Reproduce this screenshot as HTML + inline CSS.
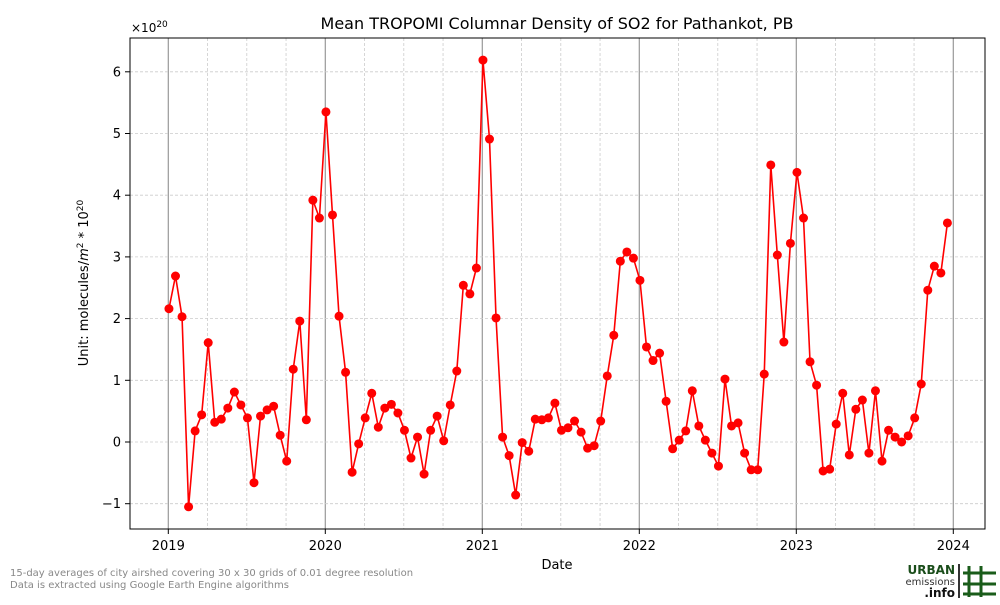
<!DOCTYPE html>
<html><head><meta charset="utf-8"><style>
body{margin:0;background:#fff;font-family:"Liberation Sans","DejaVu Sans",sans-serif}
</style></head><body>
<svg id="chart" width="1000" height="600" xmlns="http://www.w3.org/2000/svg" font-family="DejaVu Sans, Liberation Sans, sans-serif">
<rect width="1000" height="600" fill="#fff"/>
<text x="557" y="29" text-anchor="middle" font-size="16">Mean TROPOMI Columnar Density of SO2 for Pathankot, PB</text>
<text x="131" y="32" font-size="12">×10<tspan dy="-5" font-size="9">20</tspan></text>
<g id="grid"></g>
<g id="series"></g>
<rect x="130" y="38" width="855" height="491" fill="none" stroke="#000" stroke-width="1"/>
<g id="axes"></g>
<text x="557" y="569" text-anchor="middle" font-size="13">Date</text>
<text transform="translate(88,283) rotate(-90)" text-anchor="middle" font-size="13">Unit: molecules/<tspan font-style="italic">m</tspan><tspan dy="-5" font-size="9">2</tspan><tspan dy="5"> * 10</tspan><tspan dy="-5" font-size="9">20</tspan></text>
<text x="10" y="576" font-size="10" fill="#888">15-day averages of city airshed covering 30 x 30 grids of 0.01 degree resolution</text>
<text x="10" y="588" font-size="10" fill="#888">Data is extracted using Google Earth Engine algorithms</text>
<g>
<text x="955" y="574" text-anchor="end" font-size="12" font-weight="bold" fill="#1a4d1a">URBAN</text>
<text x="955" y="585" text-anchor="end" font-size="10" fill="#333">emissions</text>
<text x="955" y="597" text-anchor="end" font-size="12" font-weight="bold" fill="#111">.info</text>
<rect x="958" y="564" width="2" height="34" fill="#333"/>
<g stroke="#1a5c1a" stroke-width="3"><line x1="969" y1="566" x2="969" y2="597"/><line x1="981" y1="566" x2="981" y2="597"/><line x1="963" y1="573" x2="996" y2="573"/><line x1="963" y1="584" x2="996" y2="584"/><line x1="963" y1="594" x2="996" y2="594"/></g>
</g>
</svg>
<script>
const values = [2.16,2.69,2.03,-1.05,0.18,0.44,1.61,0.32,0.37,0.55,0.81,0.60,0.39,-0.66,0.42,0.52,0.58,0.11,-0.31,1.18,1.96,0.36,3.92,3.63,
5.35,3.68,2.04,1.13,-0.49,-0.03,0.39,0.79,0.24,0.55,0.61,0.47,0.19,-0.26,0.08,-0.52,0.19,0.42,0.02,0.60,1.15,2.54,2.40,2.82,
6.19,4.91,2.01,0.08,-0.22,-0.86,-0.01,-0.15,0.37,0.36,0.39,0.63,0.19,0.23,0.34,0.16,-0.10,-0.06,0.34,1.07,1.73,2.93,3.08,2.98,
2.62,1.54,1.32,1.44,0.66,-0.11,0.03,0.18,0.83,0.26,0.03,-0.18,-0.39,1.02,0.26,0.31,-0.18,-0.45,-0.45,1.10,4.49,3.03,1.62,3.22,
4.37,3.63,1.30,0.92,-0.47,-0.44,0.29,0.79,-0.21,0.53,0.68,-0.18,0.83,-0.31,0.19,0.08,0.00,0.10,0.39,0.94,2.46,2.85,2.74,3.55];
const startYear = 2019;
const periodsPerYear = 24;
const yTicks = [-1,0,1,2,3,4,5,6];
const xTicks = [2019,2020,2021,2022,2023,2024];
const NS='http://www.w3.org/2000/svg';
const xs = t => 168.3 + (t-2019)*157;
const ys = v => 442 - v*61.7;
function mk(tag, attrs, parent){const e=document.createElementNS(NS,tag);for(const k in attrs)e.setAttribute(k,attrs[k]);parent.appendChild(e);return e;}
const grid=document.getElementById('grid'), axes=document.getElementById('axes'), ser=document.getElementById('series');
for(let y=2019-0.25;y<2024.3;y+=0.25){const x=xs(y);if(x<130||x>985)continue;
 const major=Math.abs(y-Math.round(y))<1e-6;
 const l=mk('line',{x1:x,x2:x,y1:38,y2:529,stroke:major?'#999':'#ccc','stroke-width':major?1.2:0.8,'stroke-dasharray':major?'':'3,2'},grid);
 
 }
yTicks.forEach(v=>{const y=ys(v);
 const l=mk('line',{x1:130,x2:985,y1:y,y2:y,stroke:'#ccc','stroke-width':0.8,'stroke-dasharray':'3,2'},grid);
 
 
 mk('line',{x1:125,x2:130,y1:y,y2:y,stroke:'#000'},axes);
 const t=mk('text',{x:121,y:y+4.5,'text-anchor':'end','font-size':13},axes);t.textContent=v<0?'\u2212'+(-v):v;
 
 });
xTicks.forEach(v=>{const x=xs(v);
 mk('line',{x1:x,x2:x,y1:529,y2:534,stroke:'#000'},axes);
 const t=mk('text',{x:x,y:550,'text-anchor':'middle','font-size':13},axes);t.textContent=v;
 
 });
const pts=values.map((v,i)=>[xs(startYear+(i+0.1)/periodsPerYear),ys(v)]);
const pl=mk('polyline',{points:pts.map(p=>p.join(',')).join(' '),fill:'none',stroke:'#f00','stroke-width':1.6},ser);


pts.forEach(p=>{const c=mk('circle',{cx:p[0],cy:p[1],r:4.5,fill:'#f00'},ser);
 
 });
</script>
</body></html>
